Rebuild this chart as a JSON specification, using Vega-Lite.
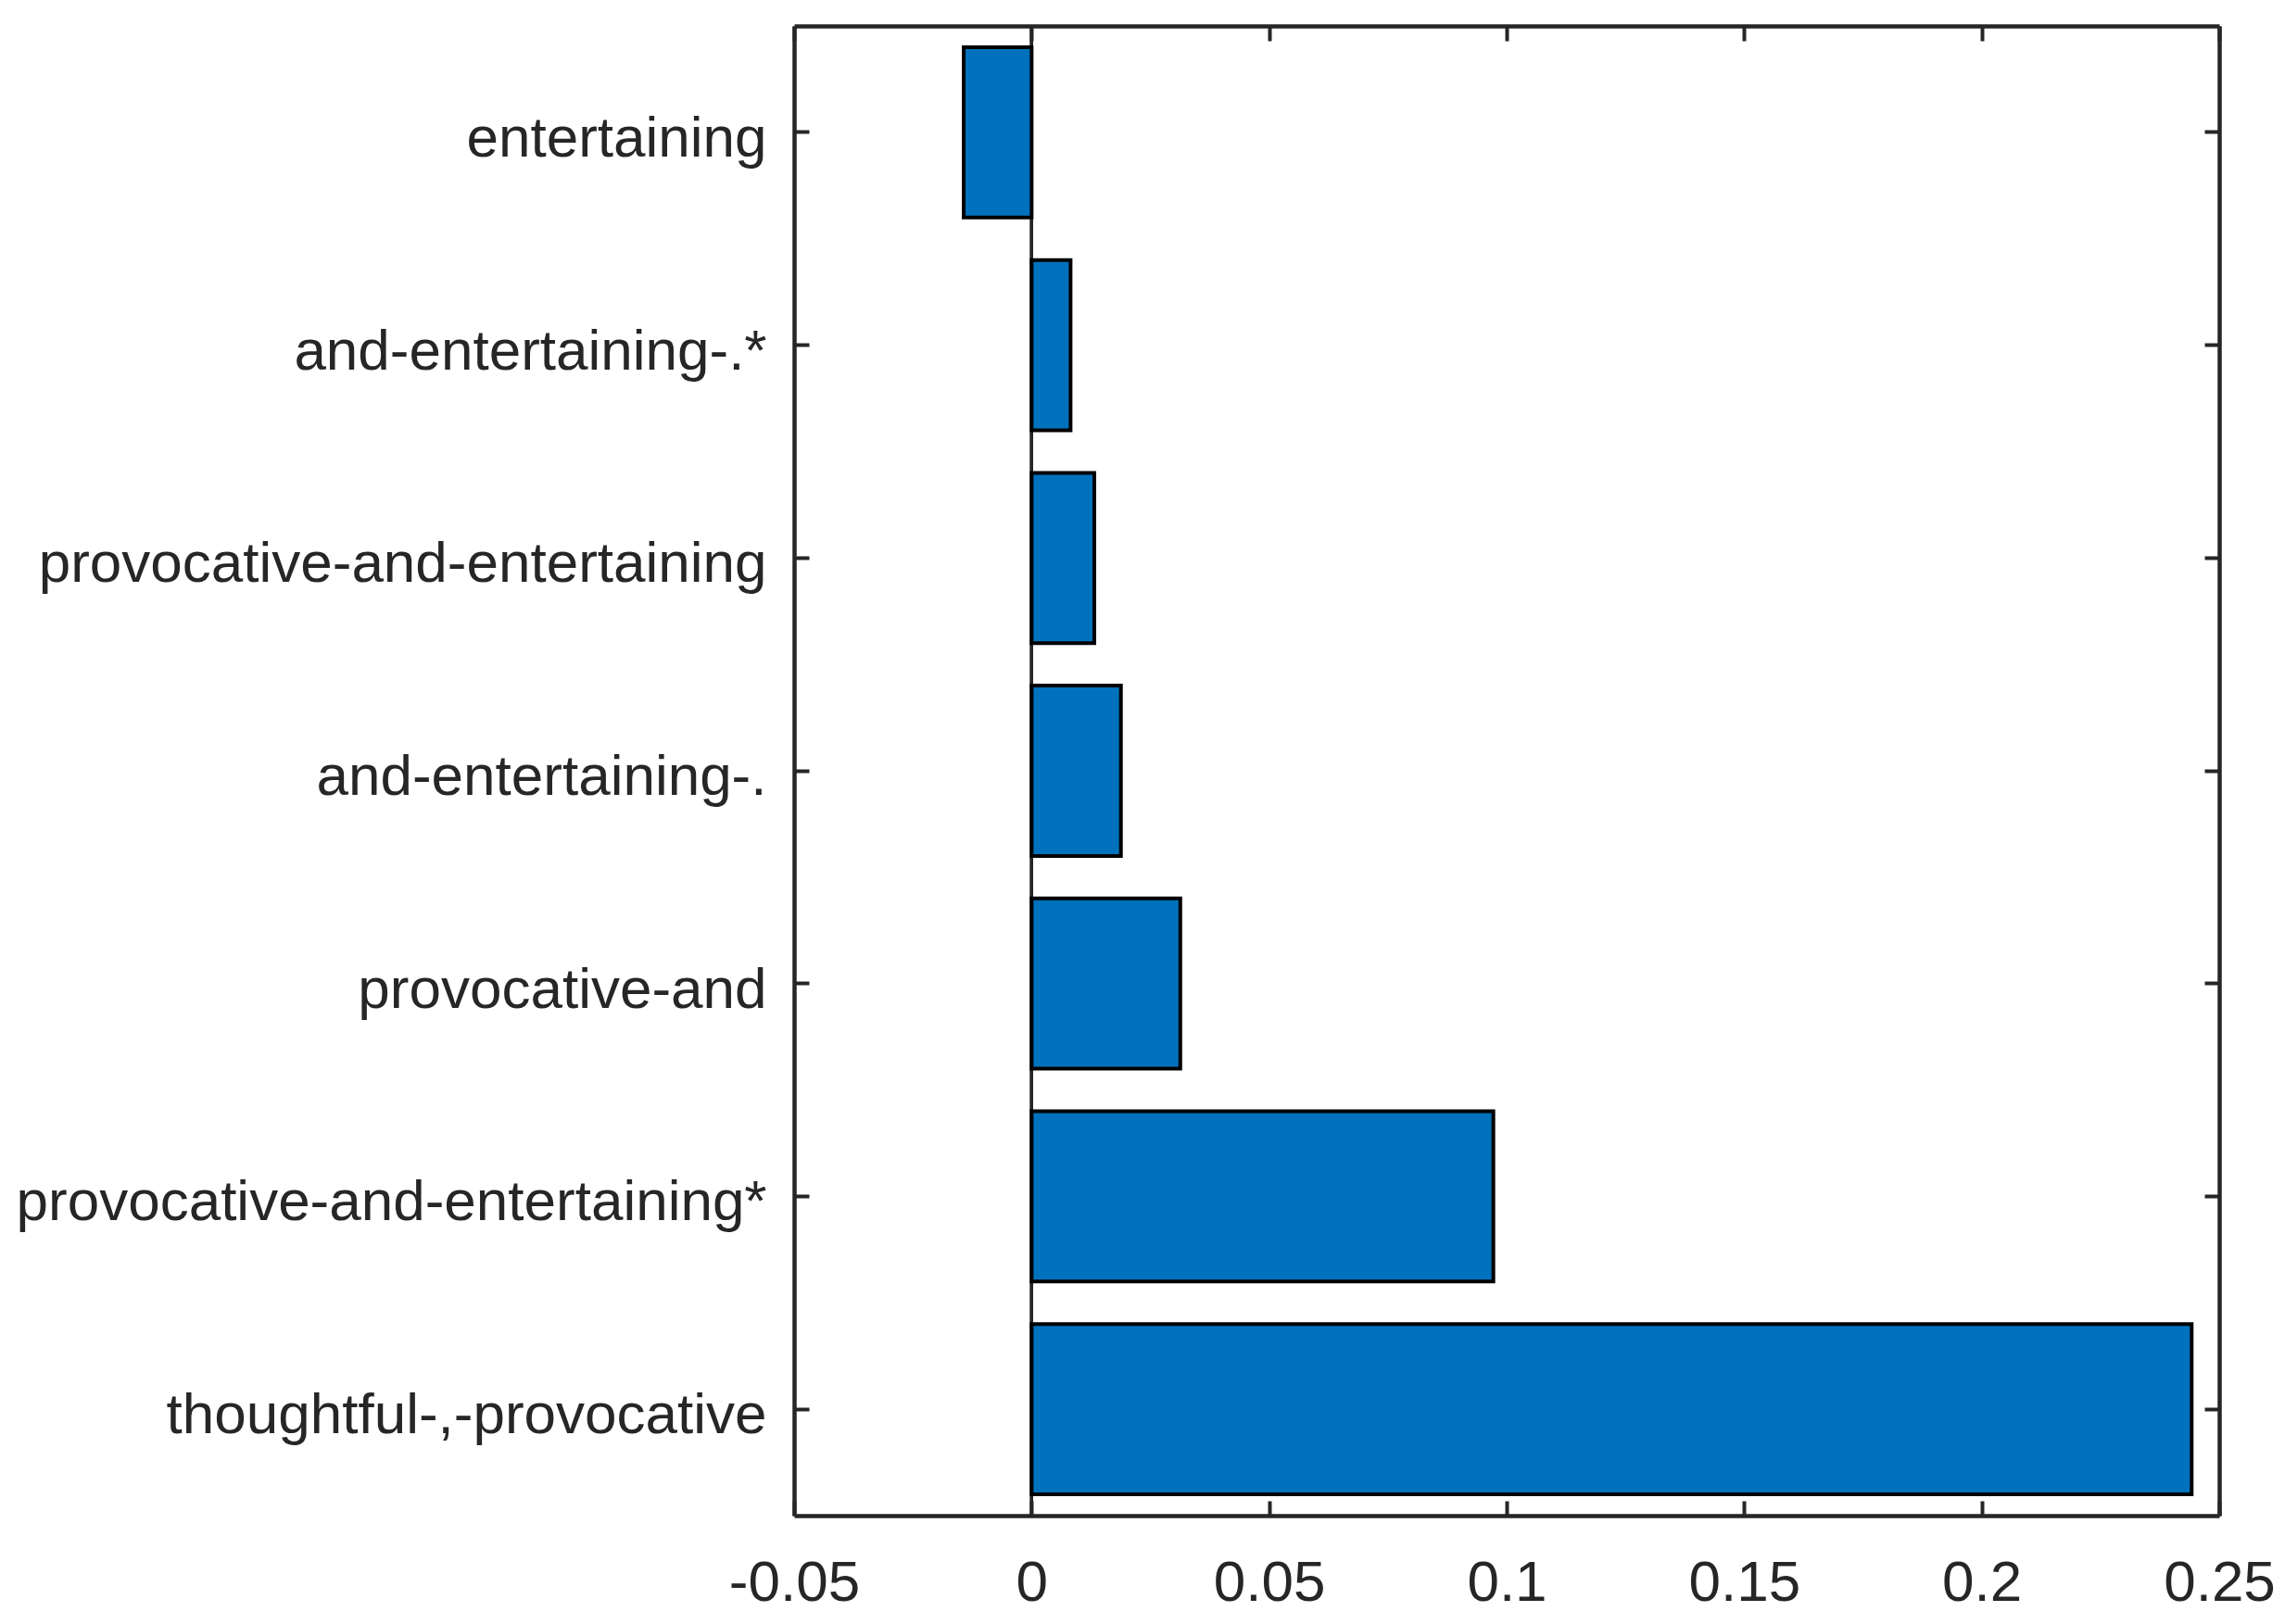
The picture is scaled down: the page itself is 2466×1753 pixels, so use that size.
{
  "$schema": "https://vega.github.io/schema/vega-lite/v6.json",
  "autosize": {"type": "none"},
  "padding": {"left": 857, "top": 28, "right": 71, "bottom": 117},
  "width": 1538,
  "height": 1608,
  "background": "white",
  "config": {
    "view": {"stroke": null},
    "font": "Liberation Sans",
    "axis": {
      "domainColor": "#262626",
      "domainWidth": 4.5,
      "tickColor": "#262626",
      "tickWidth": 4,
      "tickSize": -16,
      "labelColor": "#262626",
      "labelFont": "Liberation Sans",
      "labelFontSize": 62,
      "grid": false,
      "title": null
    }
  },
  "data": {
    "values": [
      {"label": "entertaining", "value": -0.0143},
      {"label": "and-entertaining-.*", "value": 0.0082},
      {"label": "provocative-and-entertaining", "value": 0.0132},
      {"label": "and-entertaining-.", "value": 0.0188},
      {"label": "provocative-and", "value": 0.0313},
      {"label": "provocative-and-entertaining*", "value": 0.0972},
      {"label": "thoughtful-,-provocative", "value": 0.2442}
    ]
  },
  "resolve": {"axis": {"x": "independent", "y": "independent"}},
  "layer": [
    {
      "mark": {"type": "rule", "color": "#262626", "strokeWidth": 3},
      "encoding": {
        "x": {"datum": 0, "type": "quantitative", "axis": null, "scale": {"domain": [-0.05, 0.25], "nice": false, "zero": false}}
      }
    },
    {
      "mark": {"type": "bar", "color": "#0072BD", "stroke": "#000000", "strokeWidth": 4},
      "encoding": {
        "y": {
          "field": "label", "type": "nominal", "sort": null,
          "scale": {"paddingInner": 0.2, "paddingOuter": 0.1},
          "axis": {"orient": "left", "labelPadding": 46, "labelBaseline": "middle", "labelOffset": 7, "labelLimit": 2000}
        },
        "x": {
          "field": "value", "type": "quantitative",
          "scale": {"domain": [-0.05, 0.25], "nice": false, "zero": false},
          "axis": {"orient": "bottom", "values": [-0.05, 0, 0.05, 0.1, 0.15, 0.2, 0.25], "labelExpr": "'' + datum.value", "labelPadding": 58, "labelFlush": false, "labelBaseline": "top"}
        }
      }
    },
    {
      "mark": {"type": "bar", "opacity": 0},
      "encoding": {
        "y": {
          "field": "label", "type": "nominal", "sort": null,
          "scale": {"paddingInner": 0.2, "paddingOuter": 0.1},
          "axis": {"orient": "right", "labels": false}
        },
        "x": {
          "field": "value", "type": "quantitative",
          "scale": {"domain": [-0.05, 0.25], "nice": false, "zero": false},
          "axis": {"orient": "top", "values": [-0.05, 0, 0.05, 0.1, 0.15, 0.2, 0.25], "labels": false}
        }
      }
    }
  ]
}
